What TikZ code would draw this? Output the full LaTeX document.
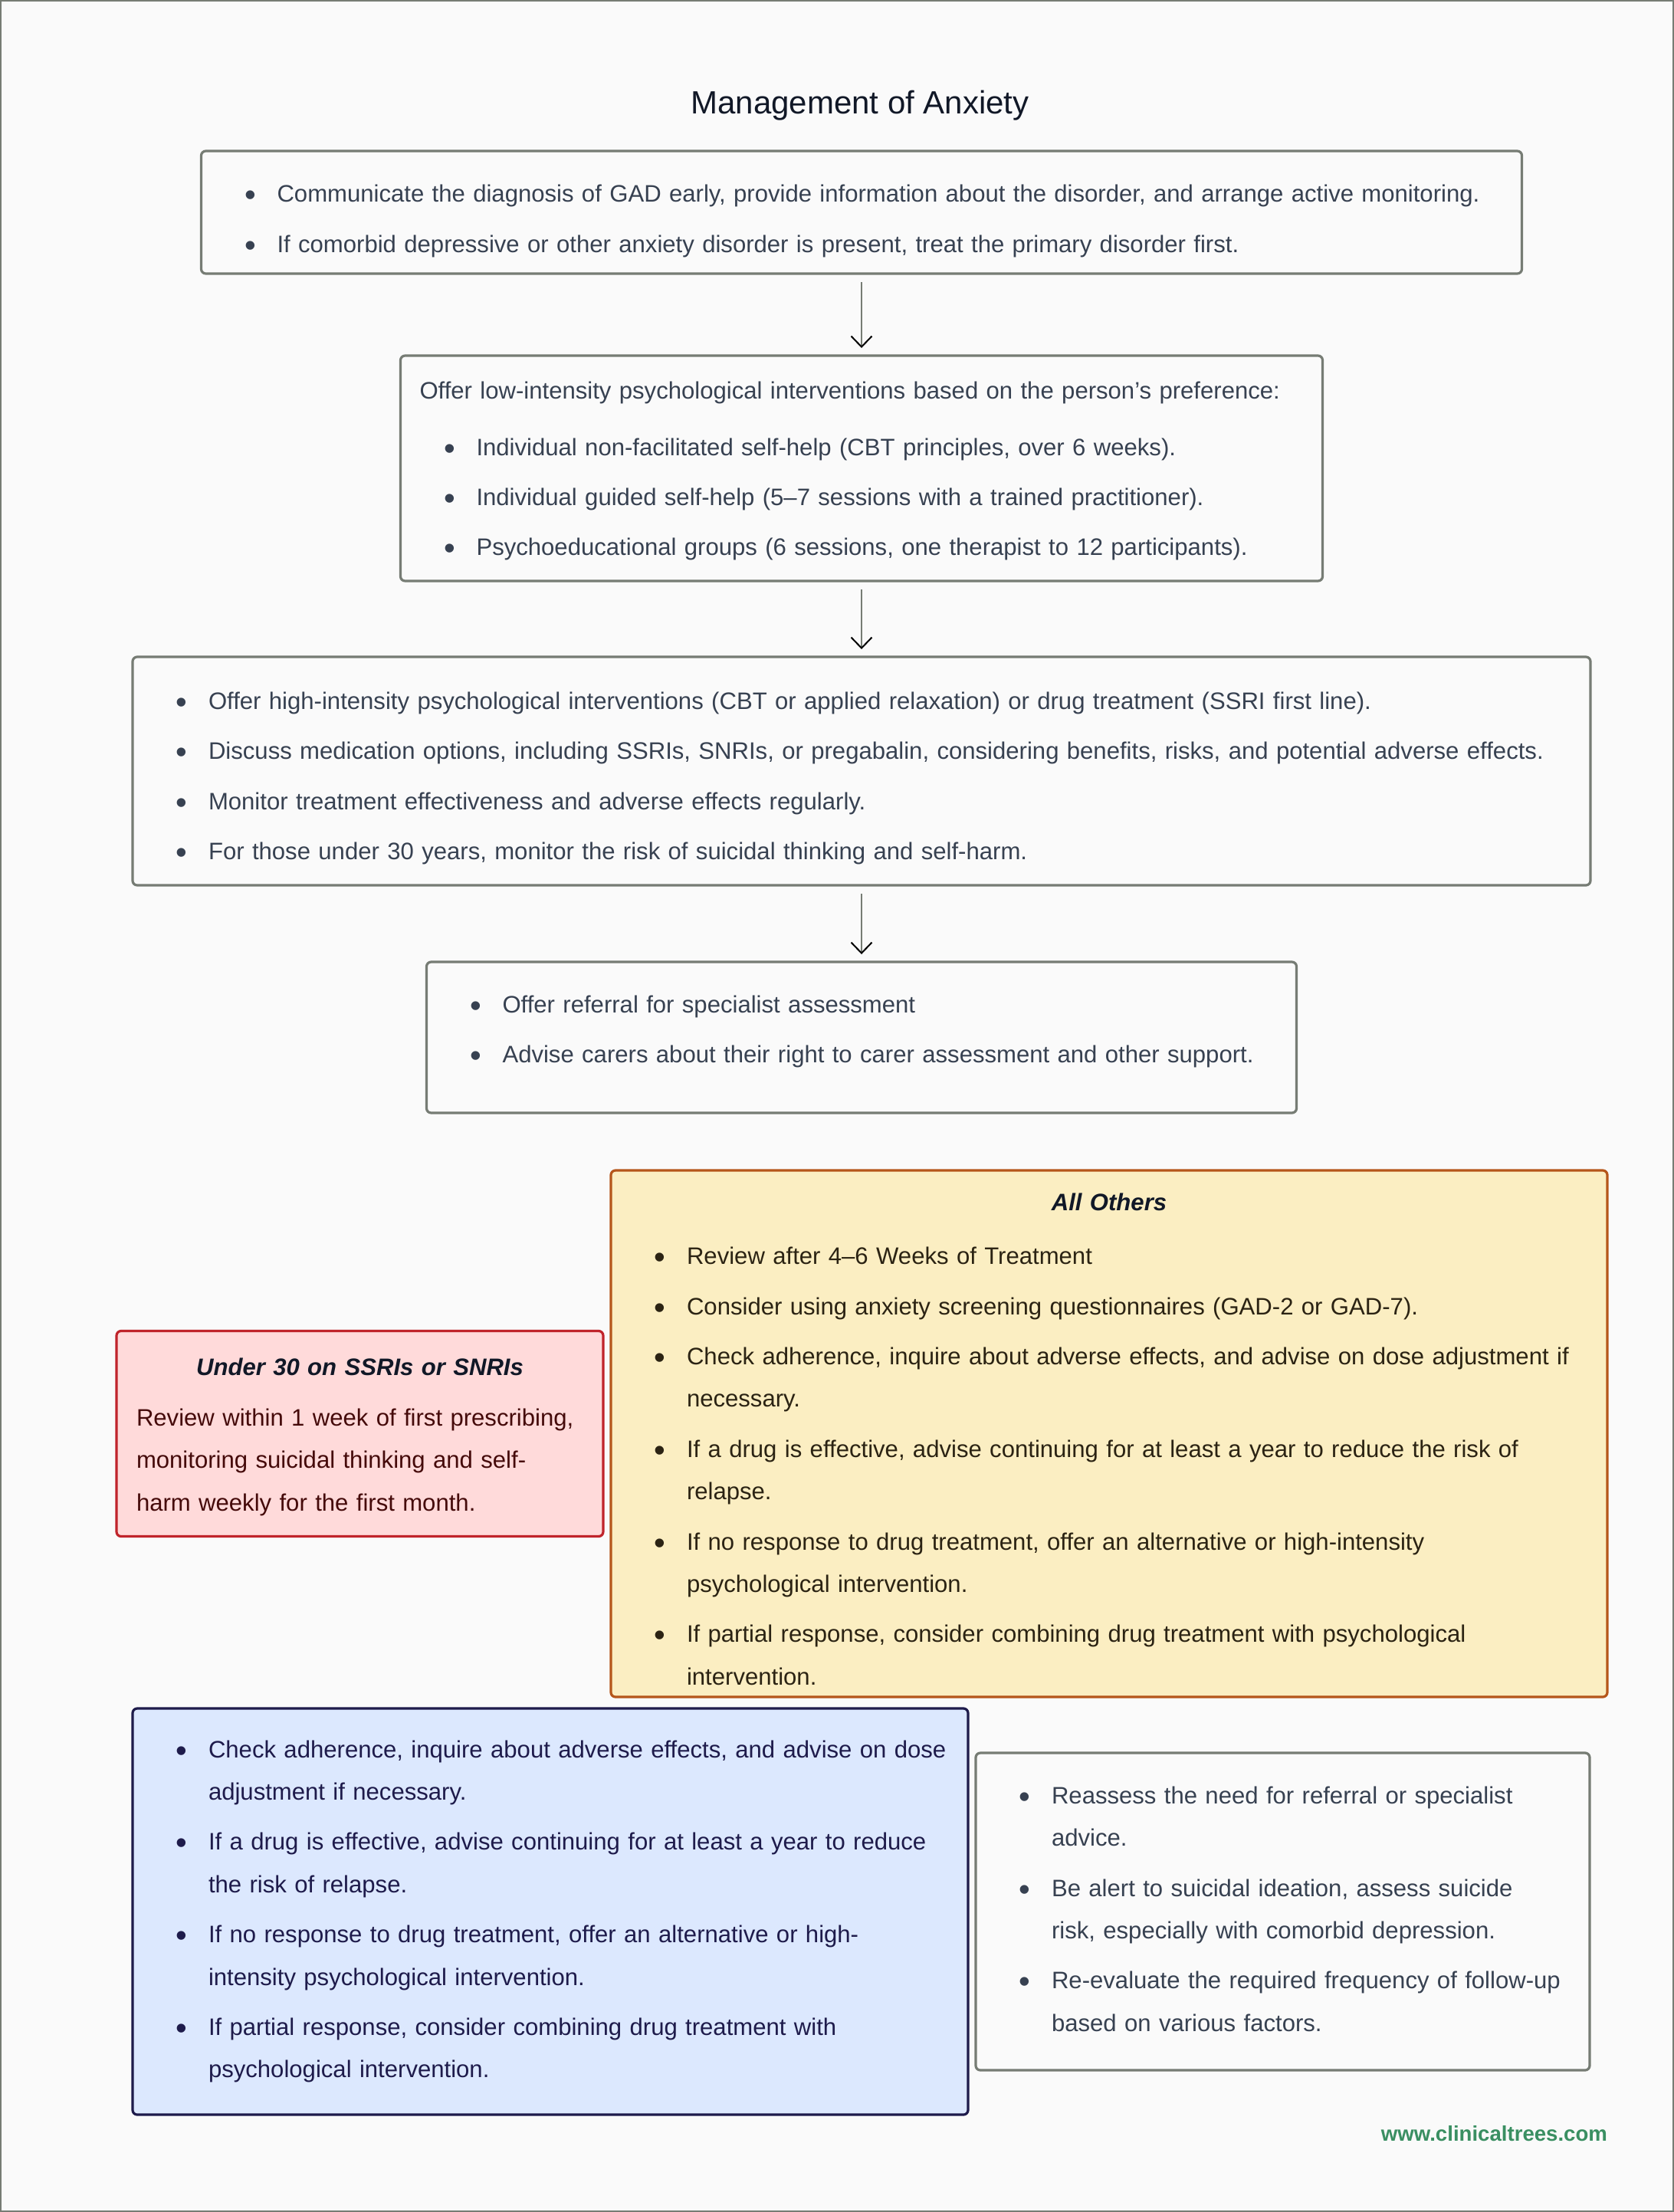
\documentclass[tikz,border=0pt]{standalone}
\usepackage{fontspec}
\setmainfont{Liberation Sans}
\usepackage{xcolor}
\usetikzlibrary{arrows.meta, positioning}

\definecolor{pagebg}{HTML}{FAFAFA}
\definecolor{edgegray}{HTML}{767C74}
\definecolor{inkgray}{HTML}{374151}
\definecolor{inkdark}{HTML}{111827}
\definecolor{redfill}{HTML}{FFDADA}
\definecolor{redline}{HTML}{C0242B}
\definecolor{redink}{HTML}{450A0A}
\definecolor{yelfill}{HTML}{FBEEC2}
\definecolor{yelline}{HTML}{B5561A}
\definecolor{yelink}{HTML}{2B2313}
\definecolor{bluefill}{HTML}{DCE8FE}
\definecolor{blueline}{HTML}{1E1B4B}
\definecolor{webgreen}{HTML}{3A8F62}

\newcommand{\bodyfont}{\fontsize{15.55pt}{27.7pt}\selectfont}
\newcommand{\itm}{\leavevmode\llap{\raisebox{-2.5pt}{\scalebox{1.35}{\textbullet}}\hspace{13.8pt}}}
\newcommand{\lift}[1]{\rule{0pt}{#1}}
\newcommand{\sink}[1]{\rule[-#1]{0pt}{#1}}
\newcommand{\boxhead}[1]{\makebox[\hsize]{\color{inkdark}\bfseries\itshape #1}}

\begin{document}
\begin{tikzpicture}[x=1pt, y=1pt,
  listindent/.style={execute at begin node={\leftskip=#1\rightskip=-40pt plus 1fil\relax}},
  card/.style={draw=edgegray, line width=1.6pt, rounded corners=3pt, fill=pagebg,
               inner xsep=24.5pt, inner ysep=0pt, outer sep=0pt, align=left, font=\bodyfont,
               text=inkgray, listindent=25pt},
  warn/.style={card, draw=redline, fill=redfill, text=redink, inner xsep=13pt, listindent=0pt},
  others/.style={card, draw=yelline, fill=yelfill, text=yelink},
  recheck/.style={card, draw=blueline, fill=bluefill, text=blueline},
  arr/.style={draw=edgegray, line width=1.2pt, shorten <=5.5pt, shorten >=5pt,
              -{Straight Barb[length=7pt, width=13.5pt, line width=1pt, color=black]}},
]
\useasboundingbox (0,0) rectangle (1092,-1443);

% Page
\fill[pagebg] (0,0) rectangle (1092,-1443);
\draw[edgegray, line width=1.2pt] (0.6,-0.6) rectangle (1091.4,-1442.4);

\node[font=\fontsize{21pt}{25pt}\selectfont, text=inkdark, anchor=base] (head) at (561,-74.4) {Management of Anxiety};

% Main steps
\node[card, text width=812.5pt, minimum height=80pt] (inform) at (562,-138.5)
  {\itm\lift{22.6pt}Communicate the diagnosis of GAD early, provide information about the disorder, and arrange active monitoring.\\[5pt]
   \itm If comorbid depressive or other anxiety disorder is present, treat the primary disorder first.};
\node[card, text width=576.5pt, inner xsep=12.5pt, listindent=37pt, minimum height=147pt,
      below=53.5pt of inform] (lowint)
  {\hspace*{-37pt}\lift{15pt}Offer low-intensity psychological interventions based on the person's preference:\\[9pt]
   \itm Individual non-facilitated self-help (CBT principles, over 6 weeks).\\[5pt]
   \itm Individual guided self-help (5--7 sessions with a trained practitioner).\\[5pt]
   \itm Psychoeducational groups (6 sessions, one therapist to 12 participants).};
\node[card, text width=902pt, minimum height=149pt, below=49.5pt of lowint] (highint)
  {\itm\lift{20.9pt}Offer high-intensity psychological interventions (CBT or applied relaxation) or drug treatment (SSRI first line).\\[5pt]
   \itm Discuss medication options, including SSRIs, SNRIs, or pregabalin, considering benefits, risks, and potential adverse effects.\\[5pt]
   \itm Monitor treatment effectiveness and adverse effects regularly.\\[5pt]
   \itm For those under 30 years, monitor the risk of suicidal thinking and self-harm.};
\node[card, text width=518.5pt, minimum height=98.5pt, below=50pt of highint] (referral)
  {\itm Offer referral for specialist assessment\\[5pt]
   \itm Advise carers about their right to carer assessment and other support.\sink{10.7pt}};

% Review boxes
\node[others, text width=601pt, minimum height=343.5pt, below=37.5pt of referral, xshift=161.5pt] (allothers)
  {\hspace*{-25pt}\lift{18.5pt}\boxhead{All Others}\\[7.5pt]
   \itm Review after 4--6 Weeks of Treatment\\[5pt]
   \itm Consider using anxiety screening questionnaires (GAD-2 or GAD-7).\\[5pt]
   \itm Check adherence, inquire about adverse effects, and advise on dose adjustment if\\
   necessary.\\[5pt]
   \itm If a drug is effective, advise continuing for at least a year to reduce the risk of\\
   relapse.\\[5pt]
   \itm If no response to drug treatment, offer an alternative or high-intensity\\
   psychological intervention.\\[5pt]
   \itm If partial response, consider combining drug treatment with psychological\\
   intervention.};
\node[warn, text width=291.5pt, minimum height=134pt, left=5pt of allothers] (under30)
  {\lift{15.5pt}\boxhead{Under 30 on SSRIs or SNRIs}\\[5.5pt]
   Review within 1 week of first prescribing,\\
   monitoring suicidal thinking and self-\\
   harm weekly for the first month.};
\node[recheck, text width=496pt, minimum height=265pt, below=7.5pt of allothers, xshift=-364.5pt] (adherence)
  {\itm Check adherence, inquire about adverse effects, and advise on dose\\
   adjustment if necessary.\\[5pt]
   \itm If a drug is effective, advise continuing for at least a year to reduce\\
   the risk of relapse.\\[5pt]
   \itm If no response to drug treatment, offer an alternative or high-\\
   intensity psychological intervention.\\[5pt]
   \itm If partial response, consider combining drug treatment with\\
   psychological intervention.};
\node[card, text width=351.5pt, minimum height=207pt, right=5pt of adherence] (reassess)
  {\itm Reassess the need for referral or specialist\\
   advice.\\[5pt]
   \itm Be alert to suicidal ideation, assess suicide\\
   risk, especially with comorbid depression.\\[5pt]
   \itm Re-evaluate the required frequency of follow-up\\
   based on various factors.\sink{3.5pt}};

\node[font=\bfseries\fontsize{13.8pt}{16pt}\selectfont, text=webgreen, anchor=base east] (site) at (1052,-1396.5) {www.clinicaltrees.com};

% Arrows
\draw[arr] (inform) -- (lowint);
\draw[arr] (lowint) -- (highint);
\draw[arr] (highint) -- (referral);

\end{tikzpicture}
\end{document}
